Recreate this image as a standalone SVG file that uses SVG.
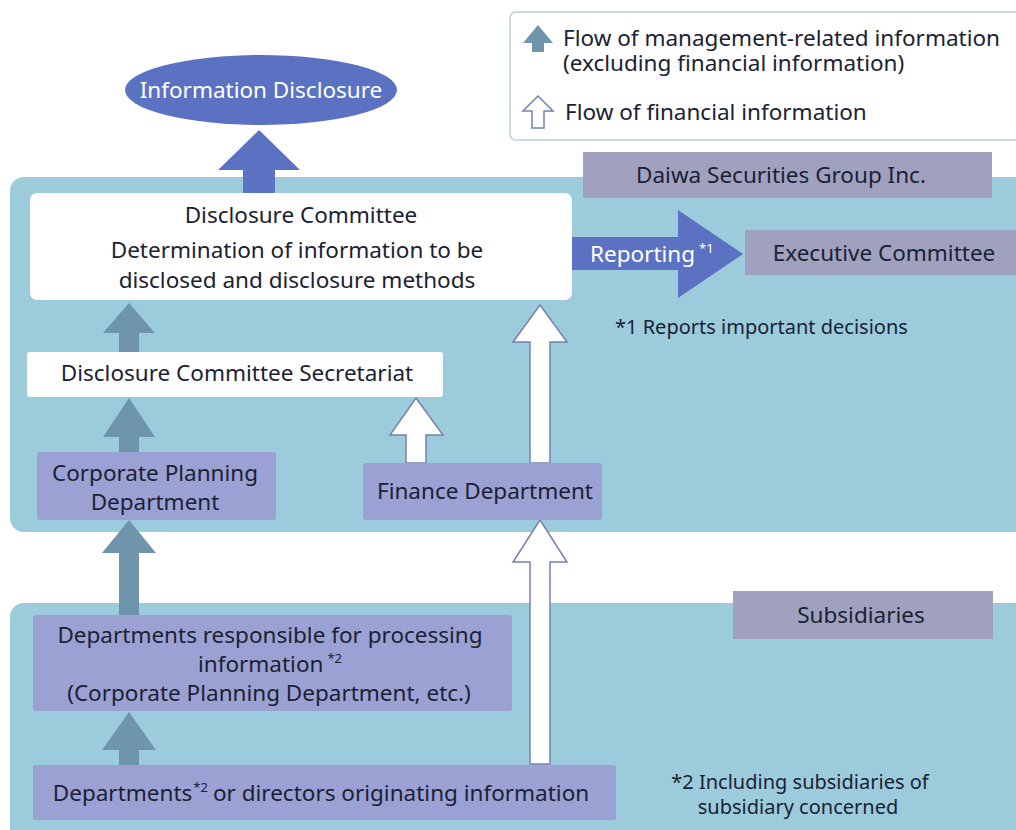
<svg xmlns="http://www.w3.org/2000/svg" width="1016" height="830" viewBox="0 0 1016 830">
<style>
text{font-family:"Noto Sans","Open Sans","Liberation Sans",sans-serif;font-size:22.5px;fill:#1a2234}
.c{text-anchor:middle}
.w{fill:#ffffff}
.note{font-size:20px}
.panel{fill:#9ccbdb}
.white{fill:#ffffff}
.lav{fill:#9ba1d3}
.gray{fill:#a0a1bf}
.blue{fill:#5b72c2}
.mg{fill:#6f95ad}
.hol{fill:#ffffff;stroke:#7483ae;stroke-width:1.5;stroke-linejoin:miter}
.sup{font-size:13px}
</style>
<rect width="1016" height="830" fill="#ffffff"/>
<g id="panels">
<rect id="group-panel" class="panel" x="10" y="177" width="1030" height="355" rx="14"/>
<rect id="subs-panel" class="panel" x="10" y="603" width="1030" height="250" rx="14"/>
</g>
<g id="legend">
<rect x="510" y="12" width="520" height="128" rx="6" fill="#ffffff" stroke="#bccfdb" stroke-width="1.5"/>
<polygon class="mg" points="538,25 553,43 544,43 544,52 532,52 532,43 523,43"/>
<polygon class="hol" points="538,96 553,111 544,111 544,128 532,128 532,111 523,111"/>
<text x="563" y="46">Flow of management-related information</text>
<text x="563" y="71">(excluding financial information)</text>
<text x="565" y="120">Flow of financial information</text>
</g>
<g id="connectors">
<polygon class="blue" points="259,130 300,170 275,170 275,194 243,194 243,170 218,170"/>
<polygon class="blue" points="571,237 678,237 678,210 743,254 678,298 678,270 571,270"/>
<polygon class="mg" points="129,303 155,333 139,333 139,352 119,352 119,333 103,333"/>
<polygon class="mg" points="129,398 155,437 139,437 139,452 119,452 119,437 103,437"/>
<polygon class="mg" points="129,520 156,553 139,553 139,615 119,615 119,553 102,553"/>
<polygon class="mg" points="129,712 156,750 139,750 139,765 119,765 119,750 102,750"/>
<polygon class="hol" points="416,398 443,435 426,435 426,463 406,463 406,435 390,435"/>
<polygon class="hol" points="540,305 567,342 550,342 550,463 530,463 530,342 513,342"/>
<polygon class="hol" points="540,520 567,562 550,562 550,764 530,764 530,562 513,562"/>
<text class="w" x="590" y="262">Reporting<tspan class="sup w" dx="4" dy="-9">*1</tspan></text>
</g>
<g id="info-disclosure">
<ellipse class="blue" cx="261" cy="90" rx="136" ry="35"/>
<text class="c w" x="261" y="98">Information Disclosure</text>
</g>
<g id="disclosure-committee">
<rect class="white" x="30" y="193" width="542" height="107" rx="7"/>
<text class="c" x="301" y="223">Disclosure Committee</text>
<text class="c" x="297" y="258">Determination of information to be</text>
<text class="c" x="297" y="288">disclosed and disclosure methods</text>
</g>
<g id="daiwa">
<rect class="gray" x="583" y="152" width="409" height="46"/>
<text class="c" x="781" y="183">Daiwa Securities Group Inc.</text>
</g>
<g id="executive-committee">
<rect class="gray" x="745" y="230" width="290" height="45"/>
<text class="c" x="884" y="261">Executive Committee</text>
</g>
<g id="note1">
<text class="note" x="615" y="334">*1 Reports important decisions</text>
</g>
<g id="secretariat">
<rect class="white" x="27" y="352" width="416" height="45" rx="3"/>
<text class="c" x="237" y="381">Disclosure Committee Secretariat</text>
</g>
<g id="corporate-planning">
<rect class="lav" x="37" y="452" width="239" height="68" rx="3"/>
<text class="c" x="155" y="481">Corporate Planning</text>
<text class="c" x="155" y="510">Department</text>
</g>
<g id="finance">
<rect class="lav" x="363" y="463" width="239" height="57" rx="3"/>
<text class="c" x="485" y="499">Finance Department</text>
</g>
<g id="subsidiaries">
<rect class="gray" x="733" y="591" width="260" height="48"/>
<text class="c" x="861" y="623">Subsidiaries</text>
</g>
<g id="processing-depts">
<rect class="lav" x="33" y="615" width="479" height="96" rx="3"/>
<text class="c" x="270" y="643">Departments responsible for processing</text>
<text class="c" x="270" y="672">information<tspan class="sup" dx="4" dy="-9">*2</tspan></text>
<text class="c" x="269" y="701">(Corporate Planning Department, etc.)</text>
</g>
<g id="originating-depts">
<rect class="lav" x="33" y="765" width="583" height="55" rx="3"/>
<text class="c" x="321" y="801">Departments<tspan class="sup" dx="1" dy="-9">*2</tspan><tspan dx="5" dy="9">or directors originating information</tspan></text>
</g>
<g id="note2">
<text class="note c" x="800" y="789">*2 Including subsidiaries of</text>
<text class="note c" x="798" y="814">subsidiary concerned</text>
</g>
</svg>
